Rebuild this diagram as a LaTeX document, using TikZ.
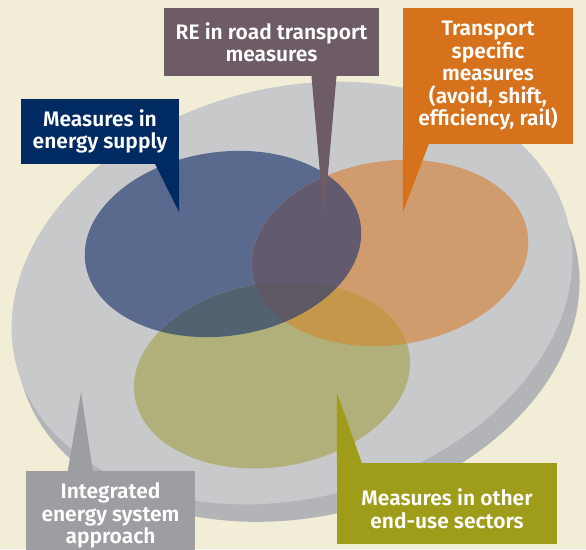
\documentclass[tikz,border=0pt]{standalone}
\usepackage{fontspec}
\newfontfamily\calloutfont{Fira Sans SemiBold}
\usepackage{xcolor}
\usepackage{tikz}
\usetikzlibrary{positioning,calc}

\definecolor{paper}{HTML}{F2EDD6}
\definecolor{disk}{HTML}{C8C9CB}
\definecolor{diskshadow}{HTML}{B3B4B8}
\definecolor{supplyfill}{HTML}{5A6A8F}
\definecolor{transportfill}{HTML}{D09C6E}
\definecolor{sectorsfill}{HTML}{B2B07A}
\definecolor{supplytransport}{HTML}{625A6E}
\definecolor{supplysectors}{HTML}{536270}
\definecolor{transportsectors}{HTML}{C4974A}
\definecolor{allthree}{HTML}{5E5865}
\definecolor{supplybox}{HTML}{002B62}
\definecolor{roadbox}{HTML}{6D5B65}
\definecolor{transportbox}{HTML}{D6721C}
\definecolor{sectorsbox}{HTML}{9E9C18}
\definecolor{systembox}{HTML}{9D9EA2}

% the three measure areas
\def\supplyarea{(223,244) circle [x radius=139pt, y radius=92pt, rotate=8]}
\def\transportarea{(390,253) circle [x radius=139pt, y radius=92pt, rotate=8]}
\def\sectorsarea{(272,375) circle [x radius=139pt, y radius=92pt, rotate=9]}

\begin{document}
\begin{tikzpicture}[
        x=1pt, y=-1pt,
        callout/.style={rectangle, inner sep=0pt, align=center, text=white,
            font=\calloutfont\fontsize{21}{22.5}\selectfont}
    ]
    \useasboundingbox (0,0) rectangle (586,549);
    \clip (0,0) rectangle (586,549);
    \fill[paper] (0,0) rectangle (586,549);

    % integrated system disk
    \fill[diskshadow] (298,312) circle [x radius=285pt, y radius=205pt, rotate=13];
    \fill[disk] (292,293) circle [x radius=285pt, y radius=205pt, rotate=15];

    % overlapping areas
    \fill[supplyfill] \supplyarea;
    \fill[transportfill] \transportarea;
    \fill[sectorsfill] \sectorsarea;
    \begin{scope}
        \clip \supplyarea;
        \fill[supplytransport] \transportarea;
        \fill[supplysectors] \sectorsarea;
        \clip \transportarea;
        \fill[allthree] \sectorsarea;
    \end{scope}
    \begin{scope}
        \clip \transportarea;
        \clip \sectorsarea;
        \path[even odd rule, fill=transportsectors] (0,0) rectangle (586,549) \supplyarea;
    \end{scope}

    % callouts
    \node[callout, fill=supplybox, minimum width=158, minimum height=65] (supply) at (100,131.5) {Measures in\\energy supply};
    \coordinate (supplytip) at (179,212);
    \fill[supplybox] (supply.south east) -- ([xshift=-24pt]supply.south east) -- (supplytip) -- cycle;

    \node[callout, fill=roadbox, minimum width=215, minimum height=68] (road) at (271.5,42) {RE in road transport\\measures};
    \coordinate (roadtip) at (324,219);
    \fill[roadbox] ([xshift=40pt]road.south) -- ([xshift=65pt]road.south) -- (roadtip) -- cycle;

    \node[callout, fill=transportbox, minimum width=170, minimum height=136] (transport) at (488,76) {Transport\\specific\\measures\\(avoid, shift,\\efficiency, rail)};
    \coordinate (transporttip) at (403,212);
    \fill[transportbox] (transport.south west) -- ([xshift=26pt]transport.south west) -- (transporttip) -- cycle;

    \node[callout, fill=sectorsbox, minimum width=220, minimum height=81] (sectors) at (447,503.5) {};
    \node[callout] (sectorstext) at ([yshift=-5pt]sectors.center) {Measures in other\\end-use sectors};
    \coordinate (sectorstip) at (337,393);
    \fill[sectorsbox] (sectors.north west) -- ([xshift=25pt]sectors.north west) -- (sectorstip) -- cycle;

    \node[callout, fill=systembox, minimum width=169, minimum height=89] (system) at (110.5,515.5) {Integrated\\energy system\\approach};
    \coordinate (systemtip) at (81,392);
    \fill[systembox] ([xshift=42pt]system.north west) -- ([xshift=67pt]system.north west) -- (systemtip) -- cycle;
\end{tikzpicture}
\end{document}
